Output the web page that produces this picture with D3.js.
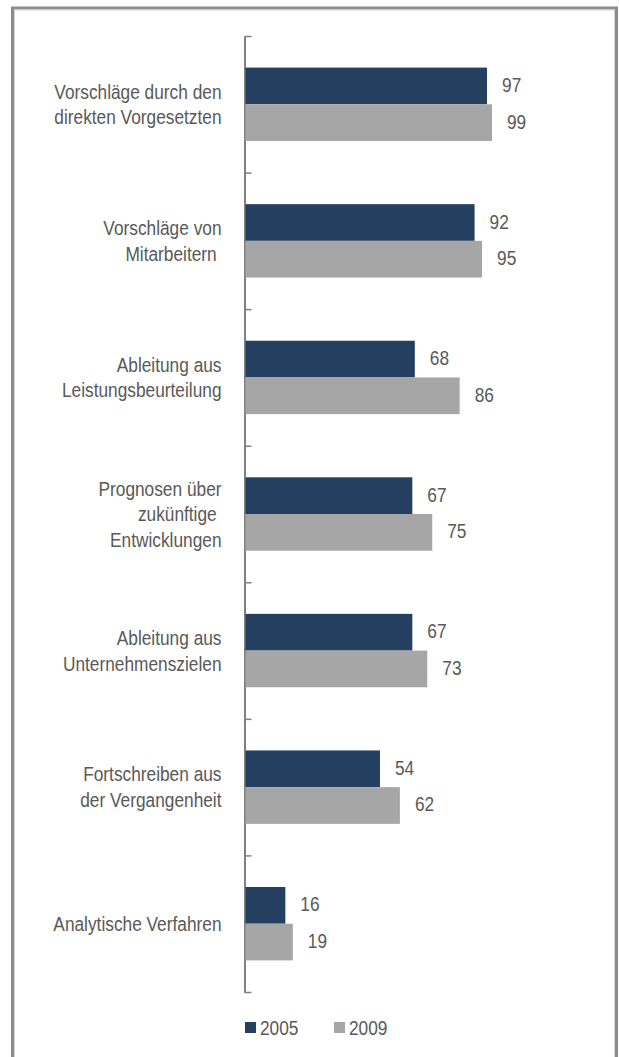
<!DOCTYPE html>
<html>
<head>
<meta charset="utf-8">
<script src="https://cdn.jsdelivr.net/npm/d3@7"></script>
<style>
  html, body { margin: 0; padding: 0; background: #fff; }
  svg { display: block; }
  text { font-family: "Liberation Sans", Arial, sans-serif; fill: #595959; white-space: pre; }
</style>
</head>
<body>
<div id="chart"></div>
<script>
// Categories (label lines) and values per year
const categories = [
  ["Vorschläge durch den", "direkten Vorgesetzten"],
  ["Vorschläge von", "Mitarbeitern "],
  ["Ableitung aus", "Leistungsbeurteilung"],
  ["Prognosen über", "zukünftige ", "Entwicklungen"],
  ["Ableitung aus", "Unternehmenszielen"],
  ["Fortschreiben aus", "der Vergangenheit"],
  ["Analytische Verfahren"]
];
const values2005 = [97, 92, 68, 67, 67, 54, 16];
const values2009 = [99, 95, 86, 75, 73, 62, 19];
const seriesNames = ["2005", "2009"];
const seriesColors = ["#253f61", "#a6a6a6"];

const W = 619, H = 1057;
const FS = 17.3, STRETCH = 1.15;

const svg = d3.select("#chart").append("svg")
  .attr("width", W).attr("height", H);

// outer frame
svg.append("rect").attr("x", 12.5).attr("y", 8).attr("width", 604).attr("height", H + 20)
  .attr("fill", "none").attr("stroke", "#8c8c8c").attr("stroke-width", 3);
svg.append("rect").attr("x", 14.5).attr("y", 10).attr("width", 600).attr("height", H + 20)
  .attr("fill", "none").attr("stroke", "#d6d6d6").attr("stroke-width", 1);

const axisX = 244.5;
const x = d3.scaleLinear().domain([0, 100]).range([245.5, 494.5]);
const yEdge = d3.scaleLinear().domain([0, categories.length]).range([36, 992]);
const y = d3.scaleBand().domain(d3.range(categories.length)).range([36, 992]).paddingInner(0).paddingOuter(0);
const barH = 36.7;

function stretchedText(sel, tx, ty) {
  return sel.attr("transform", `translate(${tx},${ty}) scale(1,${STRETCH})`);
}

// axis with ticks at category boundaries
const axis = d3.axisRight(yEdge).tickValues(d3.range(categories.length + 1))
  .tickSize(7).tickSizeOuter(0).tickFormat("");
const ag = svg.append("g").attr("transform", `translate(${axisX},0)`).call(axis);
ag.select(".domain").attr("stroke", "#808080").attr("stroke-width", 2);
ag.selectAll(".tick line").attr("stroke", "#808080").attr("stroke-width", 1.5);

const series = [values2005, values2009];
series.forEach((vals, si) => {
  const g = svg.append("g");
  g.selectAll("rect").data(vals).join("rect")
    .attr("x", x(0))
    .attr("y", (d, i) => y(i) + y.bandwidth() / 2 - barH + si * barH)
    .attr("width", d => x(d) - x(0))
    .attr("height", barH)
    .attr("fill", seriesColors[si]);
  g.selectAll("text").data(vals).join("text")
    .attr("font-size", FS)
    .text(d => d)
    .each(function (d, i) {
      const cy = y(i) + y.bandwidth() / 2 - barH + si * barH + barH / 2;
      stretchedText(d3.select(this), x(d) + 15, cy + 6);
    });
});

// category labels, right-aligned, vertically centred on their band
const lineGap = 25.7;
categories.forEach((lines, i) => {
  const cy = y(i) + y.bandwidth() / 2;
  lines.forEach((ln, j) => {
    const off = (j - (lines.length - 1) / 2) * lineGap;
    const t = svg.append("text").attr("font-size", FS).attr("text-anchor", "end").text(ln);
    stretchedText(t, 221.5, cy + off + 7.2);
  });
});

// legend
const legX = [245, 334];
seriesNames.forEach((n, i) => {
  svg.append("rect").attr("x", legX[i]).attr("y", 1022).attr("width", 11).attr("height", 11)
    .attr("fill", seriesColors[i]);
  const t = svg.append("text").attr("font-size", FS).text(n);
  stretchedText(t, legX[i] + 15, 1034.5);
});
</script>
</body>
</html>
